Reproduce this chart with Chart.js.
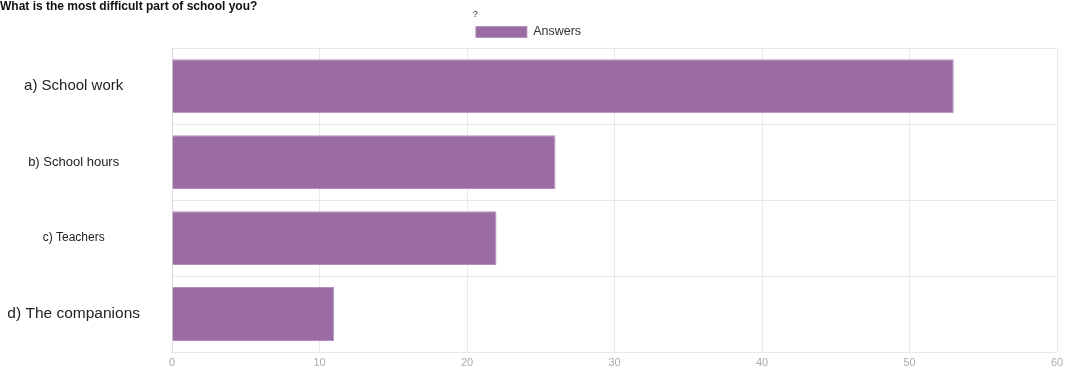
<!DOCTYPE html>
<html>
<head>
<meta charset="utf-8">
<script src="https://cdn.jsdelivr.net/npm/chart.js@4"></script>
<style>
  html, body { margin: 0; padding: 0; background: #ffffff; overflow: hidden; }
  #wrap { position: relative; width: 1070px; height: 370px; }
</style>
</head>
<body>
<div id="wrap"><canvas id="myChart"></canvas></div>
<script>
// chart data
var chartTitle = "What is the most difficult part of school you?";
var legendTitle = "?";
var seriesLabel = "Answers";
var categories = ["a) School work", "b) School hours", "c) Teachers", "d) The companions"];
var answers = [53, 26, 22, 11];
var xTickValues = [0, 10, 20, 30, 40, 50, 60];

// the category labels are not all the same size in the original
var labelSizes = [15, 13, 12, 15.5];

var barColor = "#9a6ba5";
var gridColor = "#e9e9e9";

new Chart("myChart", {
  type: "bar",
  data: {
    labels: categories,
    datasets: [
      {
        label: seriesLabel,
        backgroundColor: barColor,
        borderColor: "#b390bb",
        borderWidth: 1,
        data: answers,
        categoryPercentage: 1,
        barPercentage: 0.71,
      },
    ],
  },
  options: {
    indexAxis: "y",
    responsive: true,
    maintainAspectRatio: false,
    animation: false,
    layout: { padding: { left: 0, right: 13, top: 0, bottom: 2 } },
    scales: {
      x: {
        min: xTickValues[0],
        max: xTickValues[xTickValues.length - 1],
        afterBuildTicks: (scale) => {
          scale.ticks = xTickValues.map((v) => ({ value: v }));
        },
        afterFit: (scale) => {
          scale.height = 16;
        },
        grid: { color: gridColor, drawTicks: false },
        border: { display: false },
        ticks: {
          color: "#ababab",
          padding: 4,
          maxRotation: 0,
          font: { family: "Liberation Sans", size: 11 },
        },
      },
      y: {
        // invisible tick marks keep the labels away from the bars
        grid: { color: gridColor, offset: true, drawTicks: true, tickLength: 32, tickColor: "rgba(0,0,0,0)" },
        border: { color: "#dcdcdc" },
        afterFit: (scale) => {
          scale.width = 172;
        },
        ticks: {
          color: "#222222",
          padding: 0,
          crossAlign: "center",
          font: (ctx) => ({ family: "Liberation Sans", size: labelSizes[ctx.index] || 13 }),
        },
      },
    },
    plugins: {
      title: {
        display: true,
        text: chartTitle,
        align: "start",
        color: "#111111",
        // small lineHeight so the legend can sit close under it
        font: { family: "Liberation Sans", size: 12, weight: "bold", lineHeight: 0.5 },
        padding: { top: 4, bottom: 0 },
      },
      legend: {
        display: true,
        position: "top",
        title: {
          display: true,
          text: legendTitle,
          position: "start",
          color: "#333333",
          font: { family: "Liberation Sans", size: 9, lineHeight: 0.5 },
          padding: { top: 0, bottom: 5 },
        },
        labels: {
          color: "#333333",
          boxWidth: 51,
          boxHeight: 11,
          padding: 6.25,
          font: { family: "Liberation Sans", size: 12.5 },
        },
      },
      tooltip: { enabled: false },
    },
  },
});
</script>
</body>
</html>
